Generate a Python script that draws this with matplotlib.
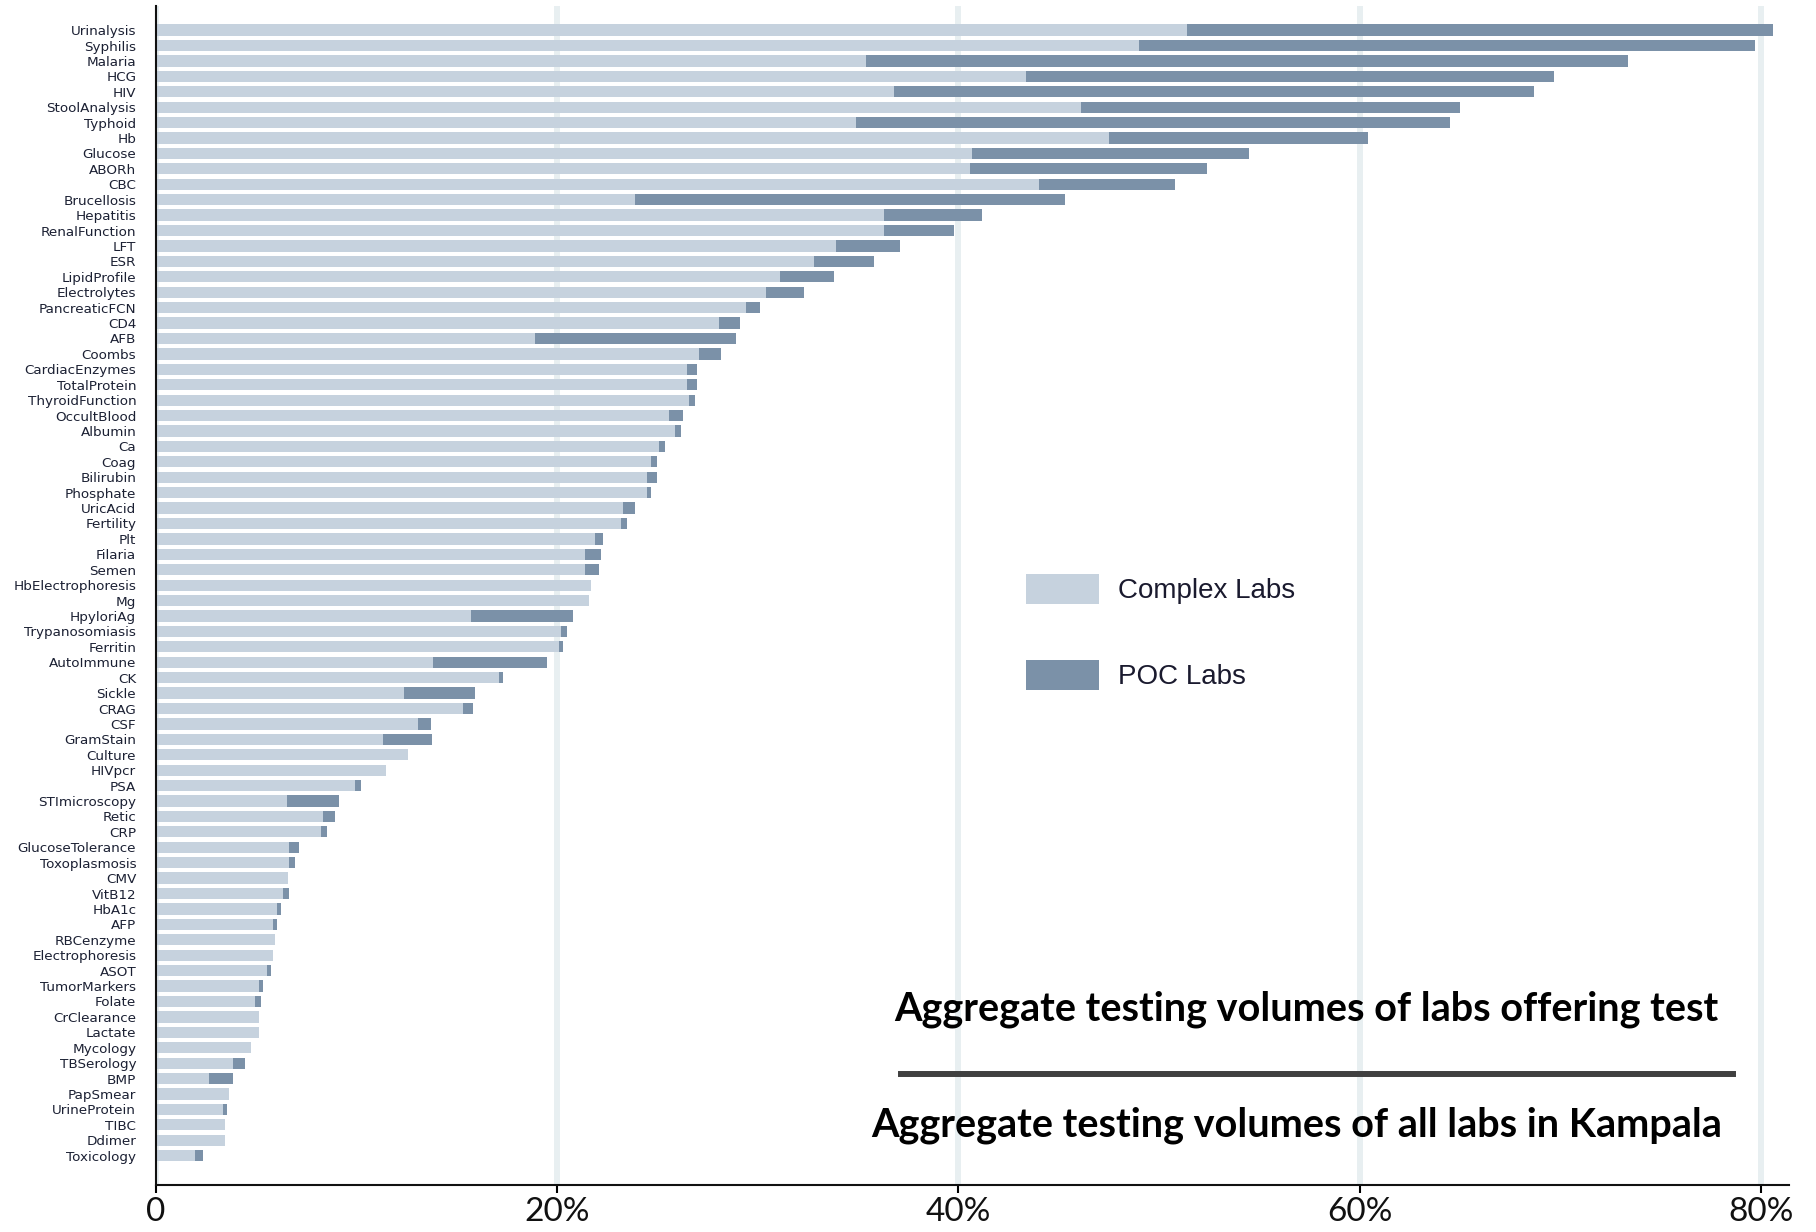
import matplotlib
matplotlib.use("Agg")
import matplotlib.pyplot as plt
from matplotlib.patches import Patch
from matplotlib.lines import Line2D
import numpy as np

# share of Kampala testing volume, % (complex labs, then the extra from POC labs)
tests = [
    "Urinalysis", "Syphilis", "Malaria", "HCG", "HIV", "StoolAnalysis", "Typhoid",
    "Hb", "Glucose", "ABORh", "CBC", "Brucellosis", "Hepatitis", "RenalFunction",
    "LFT", "ESR", "LipidProfile", "Electrolytes", "PancreaticFCN", "CD4", "AFB",
    "Coombs", "CardiacEnzymes", "TotalProtein", "ThyroidFunction", "OccultBlood",
    "Albumin", "Ca", "Coag", "Bilirubin", "Phosphate", "UricAcid", "Fertility",
    "Plt", "Filaria", "Semen", "HbElectrophoresis", "Mg", "HpyloriAg",
    "Trypanosomiasis", "Ferritin", "AutoImmune", "CK", "Sickle", "CRAG", "CSF",
    "GramStain", "Culture", "HIVpcr", "PSA", "STImicroscopy", "Retic", "CRP",
    "GlucoseTolerance", "Toxoplasmosis", "CMV", "VitB12", "HbA1c", "AFP",
    "RBCenzyme", "Electrophoresis", "ASOT", "TumorMarkers", "Folate",
    "CrClearance", "Lactate", "Mycology", "TBSerology", "BMP", "PapSmear",
    "UrineProtein", "TIBC", "Ddimer", "Toxicology",
]
complex_labs = [
    51.4, 49.0, 35.4, 43.4, 36.8, 46.1, 34.9,
    47.5, 40.7, 40.6, 44.0, 23.9, 36.3, 36.3,
    33.9, 32.8, 31.1, 30.4, 29.4, 28.1, 18.9,
    27.1, 26.5, 26.5, 26.6, 25.6,
    25.9, 25.1, 24.7, 24.5, 24.5, 23.3, 23.2,
    21.9, 21.4, 21.4, 21.7, 21.6, 15.7,
    20.2, 20.1, 13.8, 17.1, 12.4, 15.3, 13.1,
    11.35, 12.6, 11.5, 9.95, 6.55, 8.35, 8.25,
    6.65, 6.65, 6.6, 6.35, 6.05, 5.85,
    5.95, 5.85, 5.55, 5.15, 4.95,
    5.15, 5.15, 4.75, 3.85, 2.65, 3.65,
    3.35, 3.45, 3.45, 1.95,
]
poc_labs = [
    29.2, 30.7, 38.0, 26.3, 31.9, 18.9, 29.6,
    12.9, 13.8, 11.8, 6.8, 21.4, 4.9, 3.5,
    3.2, 3.0, 2.7, 1.9, 0.7, 1.0, 10.0,
    1.1, 0.5, 0.5, 0.3, 0.7,
    0.3, 0.3, 0.3, 0.5, 0.2, 0.6, 0.3,
    0.4, 0.8, 0.7, 0.0, 0.0, 5.1,
    0.3, 0.2, 5.7, 0.2, 3.5, 0.5, 0.6,
    2.4, 0.0, 0.0, 0.3, 2.6, 0.6, 0.3,
    0.5, 0.3, 0.0, 0.3, 0.2, 0.2,
    0.0, 0.0, 0.2, 0.2, 0.3,
    0.0, 0.0, 0.0, 0.6, 1.2, 0.0,
    0.2, 0.0, 0.0, 0.4,
]

xticks = [0, 20, 40, 60, 80]
xtick_labels = ["0", "20%", "40%", "60%", "80%"]
series_names = ["Complex Labs", "POC Labs"]

COMPLEX_COLOR = "#c6d2de"
POC_COLOR = "#7b91a8"
GRID_COLOR = "#e8eff1"

fig = plt.figure(figsize=(18.16, 12.32), dpi=100)
ax = fig.add_axes([0.0857, 0.0382, 0.8994, 0.9569])

y = np.arange(len(tests))
ax.barh(y, complex_labs, height=0.73, color=COMPLEX_COLOR, linewidth=0, zorder=2)
ax.barh(y, poc_labs, left=complex_labs, height=0.73, color=POC_COLOR,
        linewidth=0, zorder=2)

ax.set_xlim(0, 81.4)
ax.set_ylim(len(tests) - 1 + 1.9, -1.56)

ax.set_yticks(y)
ax.set_yticklabels(tests, fontsize=9.7, color="#1b2033", family="DejaVu Sans")
ax.tick_params(axis="y", length=0, pad=14)

ax.set_xticks(xticks)
ax.set_xticklabels(xtick_labels, fontsize=24, family="Lato", color="#111111")
ax.tick_params(axis="x", length=6, width=1.5, pad=2.5, direction="out")

ax.set_axisbelow(True)
ax.xaxis.grid(True, color=GRID_COLOR, linewidth=4.3)
for s in ["top", "right"]:
    ax.spines[s].set_visible(False)
for s in ["left", "bottom"]:
    ax.spines[s].set_linewidth(1.5)
    ax.spines[s].set_color("#111111")

handles = [Patch(facecolor=COMPLEX_COLOR, edgecolor="none"),
           Patch(facecolor=POC_COLOR, edgecolor="none")]
leg = ax.legend(handles, series_names, loc="upper left",
                bbox_to_anchor=(1025.7 / 1816, 1 - 574 / 1232),
                bbox_transform=fig.transFigure, frameon=False, borderpad=0,
                borderaxespad=0, handlelength=2.63, handleheight=1.3,
                handletextpad=0.69, labelspacing=2.0,
                prop={"family": "Liberation Sans", "size": 20})
for t in leg.get_texts():
    t.set_color("#1a1a2e")

# ratio note at the bottom right
fig.text(1306 / 1816, 1 - 1021 / 1232, "Aggregate testing volumes of labs offering test",
         ha="center", va="baseline", fontsize=28.5, fontweight="bold", family="Lato")
fig.add_artist(Line2D([901 / 1816, 1733 / 1816], [1 - 1074 / 1232] * 2,
                      transform=fig.transFigure, color="#404040", linewidth=4.3))
fig.text(1297 / 1816, 1 - 1136 / 1232, "Aggregate testing volumes of all labs in Kampala",
         ha="center", va="baseline", fontsize=28.5, fontweight="bold", family="Lato")

fig.savefig("out.png", dpi=100)
